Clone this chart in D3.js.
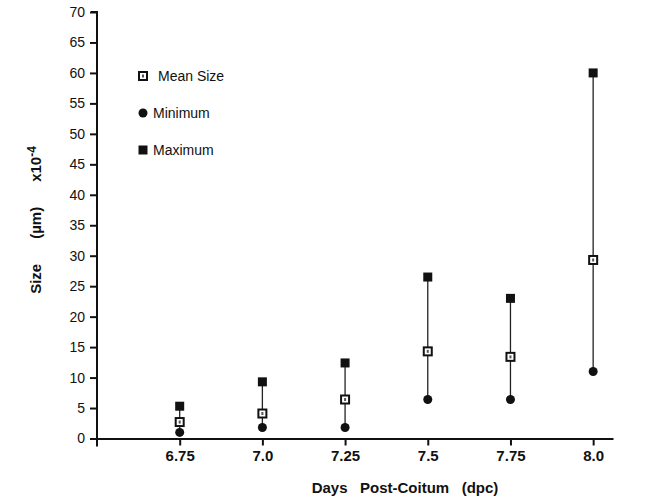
<!DOCTYPE html>
<html>
<head>
<meta charset="utf-8">
<script src="https://cdn.jsdelivr.net/npm/d3@7"></script>
<style>
  body { margin: 0; background: #fff; }
  svg { display: block; font-family: "Liberation Sans", Arial, sans-serif; }
</style>
</head>
<body>
<div id="vis"></div>
<script>
// values
var days = [6.75, 7.0, 7.25, 7.5, 7.75, 8.0];
var dayLabels = ["6.75", "7.0", "7.25", "7.5", "7.75", "8.0"];
var meanSize = [2.7, 4.1, 6.4, 14.3, 13.4, 29.3];
var minimum = [1.0, 1.8, 1.8, 6.4, 6.4, 11.0];
var maximum = [5.3, 9.3, 12.4, 26.5, 23.0, 60.0];
var yTicks = [0, 5, 10, 15, 20, 25, 30, 35, 40, 45, 50, 55, 60, 65, 70];

var width = 667, height = 498;
var margin = {top: 12, left: 97, bottom: 59, right: 54};

var svg = d3.select("#vis").append("svg")
    .attr("width", width)
    .attr("height", height);

var x = d3.scaleLinear().domain([6.5, 8.06]).range([margin.left, width - margin.right]);
var y = d3.scaleLinear().domain([0, 70]).range([height - margin.bottom - 0.5, margin.top]);

var data = days.map(function(d, i) {
  return {day: d, mean: meanSize[i], min: minimum[i], max: maximum[i]};
});

// axes
var yAxis = svg.append("g")
    .attr("transform", "translate(" + margin.left + ",0)")
    .call(d3.axisLeft(y).tickValues(yTicks).tickSize(7).tickPadding(5).tickSizeOuter(0));
yAxis.select(".domain").attr("d", "M0," + (y(0) + 8) + "V" + y(70) + "h-6");

var xAxis = svg.append("g")
    .attr("transform", "translate(0," + y(0) + ")")
    .call(d3.axisBottom(x).tickValues(days).tickFormat(function(d, i) { return dayLabels[i]; })
      .tickSize(7).tickPadding(5).tickSizeOuter(0));

svg.selectAll(".domain, .tick line")
    .attr("stroke", "#111")
    .attr("stroke-width", 2);
svg.selectAll(".tick text")
    .attr("fill", "#111")
    .style("font-family", "'Liberation Sans', Arial, sans-serif");
yAxis.selectAll(".tick text").style("font-size", "14px");
xAxis.selectAll(".tick text").style("font-size", "15px").style("font-weight", "bold");

// range lines
svg.selectAll(".range")
  .data(data)
  .enter().append("line")
    .attr("class", "range")
    .attr("x1", function(d) { return x(d.day); })
    .attr("x2", function(d) { return x(d.day); })
    .attr("y1", function(d) { return y(d.min); })
    .attr("y2", function(d) { return y(d.max); })
    .attr("stroke", "#222")
    .attr("stroke-width", 1.3);

// marker helpers
function maxMark(g, cx, cy) {
  g.append("rect").attr("x", cx - 4.5).attr("y", cy - 4.5)
    .attr("width", 9).attr("height", 9).attr("fill", "#111");
}
function minMark(g, cx, cy) {
  g.append("circle").attr("cx", cx).attr("cy", cy).attr("r", 4.5).attr("fill", "#111");
}
function meanMark(g, cx, cy) {
  g.append("rect").attr("x", cx - 4).attr("y", cy - 4)
    .attr("width", 8).attr("height", 8)
    .attr("fill", "#fff").attr("stroke", "#111").attr("stroke-width", 2);
  g.append("rect").attr("x", cx - 1).attr("y", cy - 1.5)
    .attr("width", 2).attr("height", 3).attr("fill", "#555");
}

var marks = svg.append("g");
data.forEach(function(d) {
  maxMark(marks, x(d.day), y(d.max));
  meanMark(marks, x(d.day), y(d.mean));
  minMark(marks, x(d.day), y(d.min));
});

// legend
var legend = svg.append("g");
var legendItems = [
  {label: "Mean Size", draw: meanMark, dy: 76, dx: 158},
  {label: "Minimum", draw: minMark, dy: 113, dx: 153},
  {label: "Maximum", draw: maxMark, dy: 150, dx: 153}
];
legendItems.forEach(function(item) {
  item.draw(legend, 143, item.dy);
  legend.append("text")
    .attr("x", item.dx)
    .attr("y", item.dy + 5)
    .style("font-size", "14px")
    .attr("fill", "#111")
    .text(item.label);
});

// axis titles
svg.append("text")
    .attr("x", 405)
    .attr("y", 493)
    .attr("text-anchor", "middle")
    .style("font-size", "15px")
    .style("font-weight", "bold")
    .style("white-space", "pre")
    .attr("fill", "#111")
    .text("Days   Post-Coitum   (dpc)");

var yTitle = svg.append("text")
    .attr("transform", "translate(41,220) rotate(-90)")
    .attr("text-anchor", "middle")
    .style("font-size", "15px")
    .style("font-weight", "bold")
    .style("white-space", "pre")
    .attr("fill", "#111");
yTitle.append("tspan").text("Size      (\u00b5m)      x10");
yTitle.append("tspan").attr("dy", -5).style("font-size", "12px").text("-4");
</script>
</body>
</html>
